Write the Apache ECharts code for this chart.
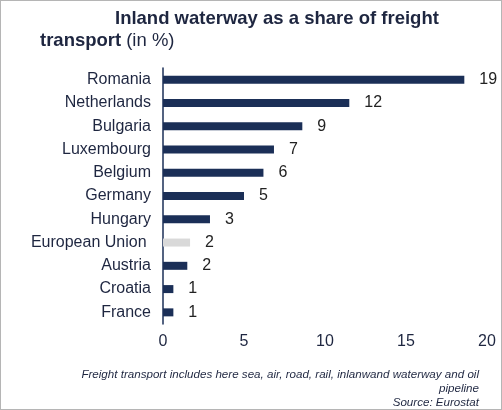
<!DOCTYPE html>
<html>
<head>
<meta charset="utf-8">
<script src="https://cdn.jsdelivr.net/npm/echarts@6/dist/echarts.min.js"></script>
<style>
    html, body { margin: 0; padding: 0; background: #fff; }
    #chart { width: 500px; height: 408px; border: 1px solid #b5b5b5; }
</style>
</head>
<body>
<div id="chart"></div>
<script>
// countries top to bottom
let countries = ['Romania', 'Netherlands', 'Bulgaria', 'Luxembourg', 'Belgium', 'Germany',
    'Hungary', 'European Union ', 'Austria', 'Croatia', 'France'];
let shares = [18.6, 11.5, 8.6, 6.85, 6.2, 5.0, 2.9, 1.67, 1.5, 0.64, 0.64];
let x_ticks = [0, 5, 10, 15, 20];

let navy = '#1b2f57';
let textColor = '#1e2640';

let bar_data = [];
for (let i = 0; i < shares.length; i++) {
    let col = countries[i].trim() == 'European Union' ? '#d9d9d9' : navy;
    bar_data.push({value: shares[i], itemStyle: {color: col}});
}

let myChart = echarts.init(document.getElementById('chart'));
let option = {
    animation: false,
    textStyle: {fontFamily: 'Liberation Sans, Arial, sans-serif'},
    title: [
        {
            text: 'Inland waterway as a share of freight',
            left: 109, top: 3,
            textStyle: {fontSize: 18.5, fontWeight: 'bold', color: textColor}
        },
        {
            text: '{b|transport} {n|(in %)}',
            left: 34, top: 25,
            textStyle: {
                rich: {
                    b: {fontSize: 18.5, fontWeight: 'bold', color: textColor},
                    n: {fontSize: 18.5, fontWeight: 'normal', color: textColor}
                }
            }
        }
    ],
    grid: {left: 162, right: 14, top: 67, bottom: 85, containLabel: false},
    xAxis: {
        type: 'value',
        min: x_ticks[0],
        max: x_ticks[x_ticks.length - 1],
        interval: 5,
        axisLine: {show: false},
        axisTick: {show: false},
        splitLine: {show: false},
        axisLabel: {fontSize: 16, color: textColor, margin: 10}
    },
    yAxis: {
        type: 'category',
        inverse: true,
        data: countries,
        axisLine: {show: true, lineStyle: {color: navy, width: 1.5}},
        axisTick: {show: false},
        axisLabel: {fontSize: 16, color: textColor, margin: 12}
    },
    series: [{
        type: 'bar',
        data: bar_data,
        barWidth: 8,
        label: {
            show: true,
            position: 'right',
            distance: 15,
            fontSize: 16,
            color: '#222',
            formatter: function (p) {
                return Math.round(p.value);
            }
        }
    }],
    graphic: [{
        type: 'text',
        x: 478, y: 367,
        style: {
            text: 'Freight transport includes here sea, air, road, rail, inlanwand waterway and oil\npipeline\nSource: Eurostat',
            align: 'right',
            font: 'italic 11.6px Liberation Sans, Arial, sans-serif',
            fill: textColor,
            lineHeight: 14
        }
    }]
};
myChart.setOption(option);
</script>
</body>
</html>
